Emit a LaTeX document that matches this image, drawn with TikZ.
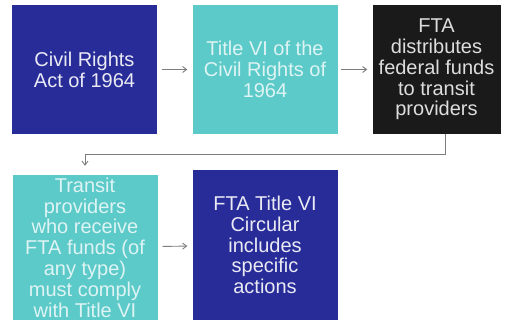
\documentclass[tikz,border=0pt]{standalone}
\usepackage{fontspec}
\setmainfont{Liberation Sans}
\usepackage{xcolor}
\usetikzlibrary{arrows.meta,positioning,calc}
\definecolor{lawblue}{RGB}{40, 44, 152}
\definecolor{lawteal}{RGB}{92, 202, 200}
\definecolor{lawblack}{RGB}{26, 26, 26}
\definecolor{arrowgray}{RGB}{125, 125, 125}

\begin{document}
\begin{tikzpicture}[x=1pt, y=-1pt,
  stepbox/.style={rectangle, inner sep=0pt, minimum width=145pt, minimum height=129pt, align=center, font=\fontsize{20}{20.8}\selectfont},
  bluebox/.style={stepbox, fill=lawblue, text=white!90!lawblue},
  tealbox/.style={stepbox, fill=lawteal, text=white!80!lawteal},
  darkbox/.style={stepbox, fill=lawblack, text=white!85!lawblack, minimum width=128pt},
  flowarrow/.style={-{Straight Barb[length=4pt,width=6pt]}, line width=0.9pt, color=arrowgray}
]
\useasboundingbox (0,0) rectangle (505,320);

% Top row
\node[bluebox] (act) at (84.5, 69.5) {Civil Rights\\Act of 1964};
\node[tealbox] (title) at (265, 69.5) {Title VI of the\\Civil Rights of\\1964};
\node[darkbox] (fta) at (436.5, 69.5) {FTA\\distributes\\federal funds\\to transit\\providers};

% Bottom row
\node[tealbox, minimum height=145pt] (comply) at (85, 247.5) {Transit\\providers\\who receive\\FTA funds (of\\any type)\\must comply\\with Title VI};
\node[bluebox, minimum height=150pt] (circular) at (265, 245) {FTA Title VI\\Circular\\includes\\specific\\actions};

% Connectors
\draw[flowarrow, shorten <=5pt, shorten >=5pt] (act) -- (title);
\draw[flowarrow, shorten <=3pt, shorten >=5pt] (title) -- (fta);
\draw[flowarrow, shorten >=9pt] ([xshift=8.5pt]fta.south) -- ++(0,20) -| (comply.north);
\draw[flowarrow, shorten <=5pt, shorten >=5pt] (comply) -- (circular);

\end{tikzpicture}
\end{document}
